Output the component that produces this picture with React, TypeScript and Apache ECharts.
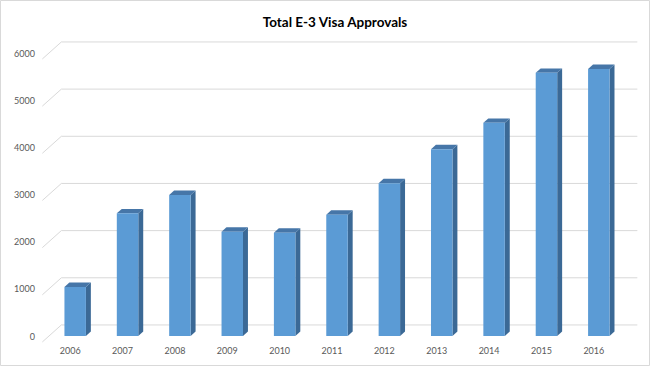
import React, { useEffect, useRef } from "react";
import * as echarts from "echarts";

const years = ["2006", "2007", "2008", "2009", "2010", "2011", "2012", "2013", "2014", "2015", "2016"];
const approvals = [1040, 2600, 2990, 2210, 2190, 2570, 3240, 3960, 4520, 5580, 5660];
const yTicks = [0, 1000, 2000, 3000, 4000, 5000, 6000];
const titleText = "Total E-3 Visa Approvals";

const FRONT = "#5b9bd5";
const SIDE = "#3b6996";
const TOP = "#4676a8";
const GRID = "#d9d9d9";
const FONT = "Lato, 'Noto Sans', sans-serif";

// oblique depth vector of the whole floor
const DX = 19;
const DY = -17;
const BAR_D = 0.35; // depth where bar fronts sit
const BAR_DEPTH = 0.26;

export default function App() {
  const ref = useRef<HTMLDivElement>(null);
  useEffect(() => {
    if (!ref.current) return;
    const chart = echarts.init(ref.current, null, { renderer: "svg" });
    chart.setOption({
      animation: false,
      backgroundColor: "#ffffff",
      title: {
        text: titleText,
        left: 330,
        textAlign: "center",
        top: 10,
        textStyle: { fontFamily: FONT, fontSize: 13.5, fontWeight: "bold", color: "#000000" },
      },
      graphic: [
        {
          type: "rect",
          shape: { x: 0.5, y: 0.5, width: 649, height: 365 },
          style: { fill: "none", stroke: GRID, lineWidth: 1 },
          silent: true,
        },
      ],
      grid: { left: 49, right: 25, top: 53, bottom: 30 },
      xAxis: {
        type: "category",
        data: years,
        axisLine: { show: false },
        axisTick: { show: false },
        splitLine: { show: false },
        axisLabel: {
          color: "#595959",
          fontFamily: FONT,
          fontSize: 9,
          margin: 10,
          padding: [0, 10, 0, 0],
        },
      },
      yAxis: {
        type: "value",
        min: 0,
        max: 6000,
        interval: 1000,
        axisLine: { show: false },
        axisTick: { show: false },
        splitLine: { show: false },
        axisLabel: {
          color: "#595959",
          fontFamily: FONT,
          fontSize: 9,
          margin: 14,
          padding: [6, 0, 0, 0],
          formatter: (v: number) => String(v),
        },
      },
      series: [
        {
          type: "custom",
          z: 1,
          silent: true,
          data: yTicks.map((v) => [0, v]),
          renderItem: (params: any, api: any) => {
            const cs = params.coordSys;
            const y = api.coord([0, api.value(1)])[1];
            const fx = cs.x - BAR_D * DX;
            const fy = y - BAR_D * DY;
            const bx = cs.x + (1 - BAR_D) * DX;
            const by = y + (1 - BAR_D) * DY;
            const ex = cs.x + cs.width + (1 - BAR_D) * DX;
            return {
              type: "polyline",
              shape: { points: [[fx, fy], [bx, by], [ex, by]] },
              style: { stroke: GRID, lineWidth: 1, fill: "none" },
            };
          },
        },
        {
          type: "custom",
          z: 2,
          data: approvals.map((v, i) => [i, v]),
          renderItem: (params: any, api: any) => {
            const base = api.coord([api.value(0), 0]);
            const top = api.coord([api.value(0), api.value(1)]);
            const bw = api.size([1, 0])[0] * 0.41;
            const l = base[0] - bw / 2;
            const r = base[0] + bw / 2;
            const b = base[1];
            const t = top[1];
            const dx = DX * BAR_DEPTH;
            const dy = DY * BAR_DEPTH;
            return {
              type: "group",
              children: [
                {
                  type: "polygon",
                  shape: { points: [[r, b], [r + dx, b + dy], [r + dx, t + dy], [r, t]] },
                  style: { fill: SIDE },
                },
                {
                  type: "polygon",
                  shape: { points: [[l, t], [l + dx, t + dy], [r + dx, t + dy], [r, t]] },
                  style: { fill: TOP },
                },
                {
                  type: "rect",
                  shape: { x: l, y: t, width: bw, height: b - t },
                  style: { fill: FRONT },
                },
              ],
            };
          },
        },
      ],
    });
    return () => chart.dispose();
  }, []);
  return (
    <div
      ref={ref}
      style={{ position: "fixed", left: 0, top: 0, width: 650, height: 366 }}
    />
  );
}
